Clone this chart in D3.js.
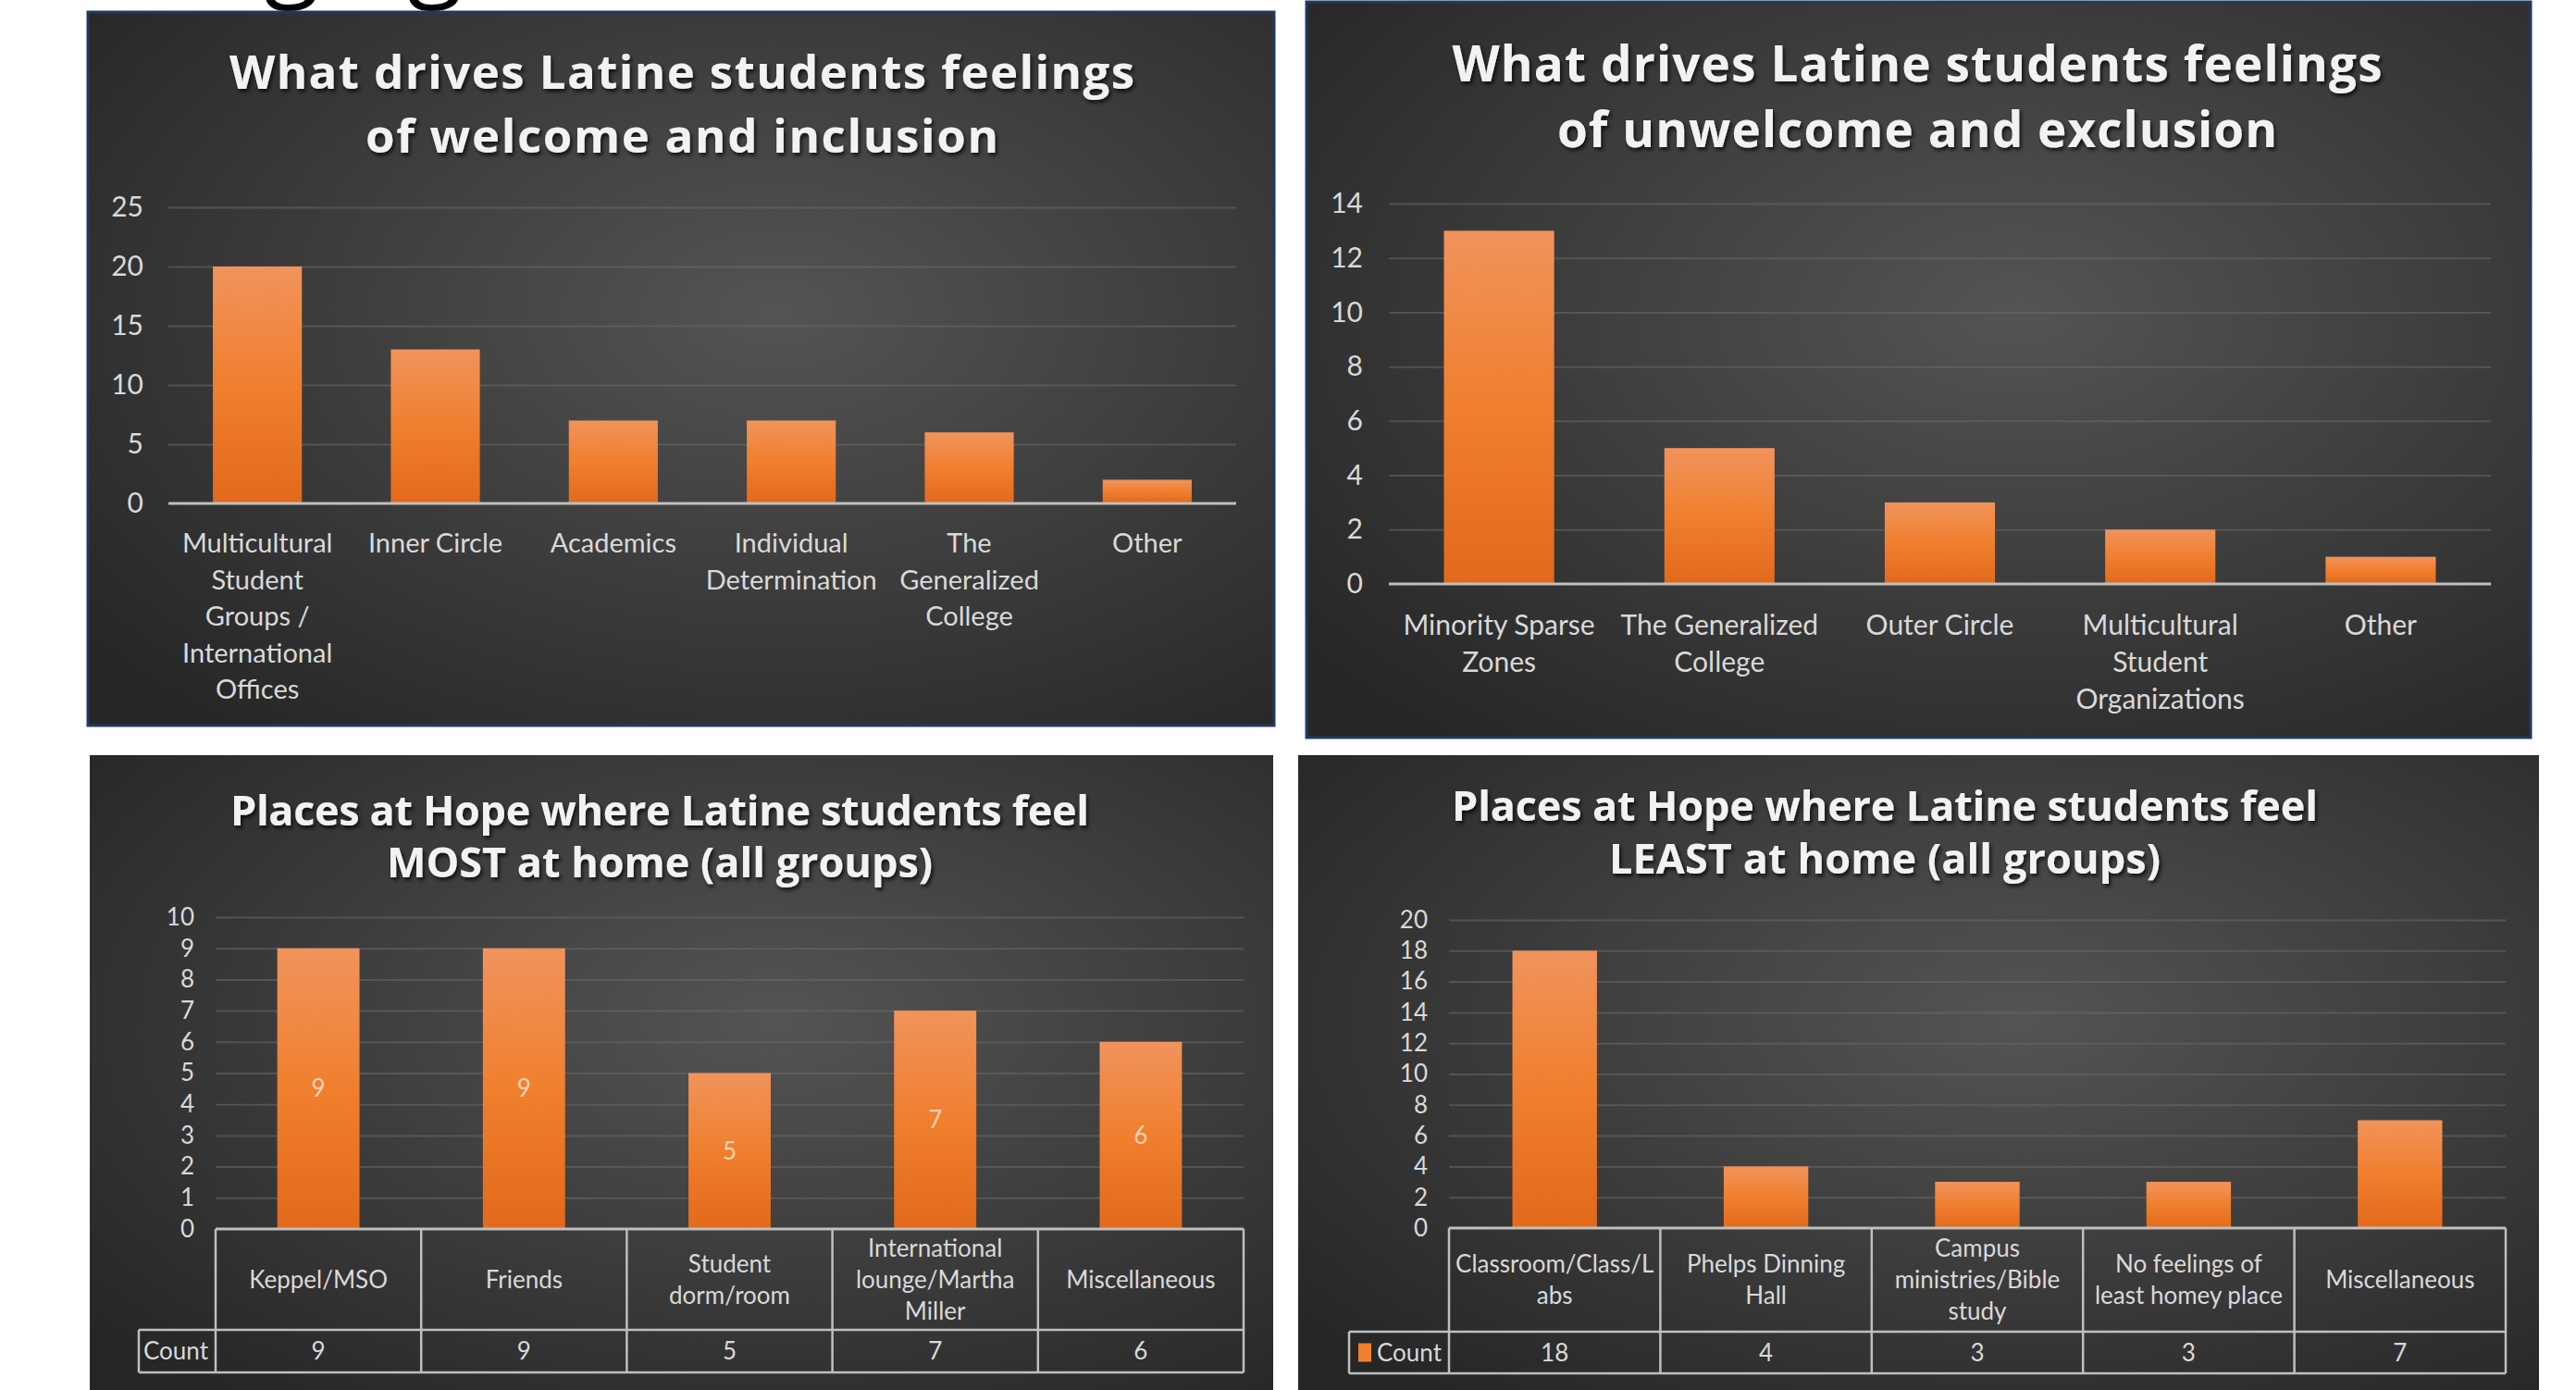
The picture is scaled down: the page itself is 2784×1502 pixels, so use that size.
<!DOCTYPE html>
<html lang="en">
<head>
<meta charset="UTF-8">
<title>Latine students - belonging charts</title>
<script src="https://d3js.org/d3.v7.min.js"></script>
<style>
  body { margin: 0; background: #ffffff; }
  svg { display: block; }
  .title { font-family: "Open Sans", sans-serif; font-weight: 700; fill: #f2f2f2; }
  .lbl { font-family: Lato, sans-serif; fill: #d9d9d9; }
</style>
</head>
<body>
<svg width="2784" height="1502"></svg>
<script>
// ---- data ----
const welcomeCats = ["Multicultural\nStudent\nGroups /\nInternational\nOffices", "Inner Circle", "Academics",
                     "Individual\nDetermination", "The\nGeneralized\nCollege", "Other"];
const welcomeVals = [20, 13, 7, 7, 6, 2];
const welcomeTicks = [0, 5, 10, 15, 20, 25];

const unwelcomeCats = ["Minority Sparse\nZones", "The Generalized\nCollege", "Outer Circle",
                       "Multicultural\nStudent\nOrganizations", "Other"];
const unwelcomeVals = [13, 5, 3, 2, 1];
const unwelcomeTicks = [0, 2, 4, 6, 8, 10, 12, 14];

const mostCats = ["Keppel/MSO", "Friends", "Student\ndorm/room", "International\nlounge/Martha\nMiller", "Miscellaneous"];
const mostVals = [9, 9, 5, 7, 6];
const mostTicks = [0, 1, 2, 3, 4, 5, 6, 7, 8, 9, 10];

const leastCats = ["Classroom/Class/L\nabs", "Phelps Dinning\nHall", "Campus\nministries/Bible\nstudy",
                   "No feelings of\nleast homey place", "Miscellaneous"];
const leastVals = [18, 4, 3, 3, 7];
const leastTicks = [0, 2, 4, 6, 8, 10, 12, 14, 16, 18, 20];

const seriesName = "Count";

// ---- layout per panel ----
const panels = [
  { box: [95, 13, 1282, 771], border: true,
    title: ["What drives Latine students feelings", "of welcome and inclusion"],
    titleY: [78, 147], titleW: [978, 684], cx: 737, titleSize: 51,
    cats: welcomeCats, vals: welcomeVals, ticks: welcomeTicks,
    x0: 182, x1: 1336, yTop: 224, yBot: 544, pad: 0.5, tickX: 155, tickSize: 30,
    labelY: 587, lineH: 39.5, labelSize: 29 },
  { box: [1412, 2, 1323, 795], border: true,
    title: ["What drives Latine students feelings", "of unwelcome and exclusion"],
    titleY: [69, 140], titleW: [1005, 778], cx: 2072, titleSize: 53,
    cats: unwelcomeCats, vals: unwelcomeVals, ticks: unwelcomeTicks,
    x0: 1501, x1: 2692, yTop: 220, yBot: 631, pad: 0.5, tickX: 1473, tickSize: 30,
    labelY: 675, lineH: 40, labelSize: 30 },
  { box: [97, 816, 1279, 686], border: false,
    title: ["Places at Hope where Latine students feel", "MOST at home (all groups)"],
    titleY: [876, 932], titleW: [928, 590], cx: 713, titleSize: 45,
    cats: mostCats, vals: mostVals, ticks: mostTicks,
    x0: 233, x1: 1344, yTop: 991, yBot: 1328, pad: 0.6, tickX: 210, tickSize: 26,
    dataLabels: true,
    table: { headLeft: 150, row1: 1437, row2: 1483, key: false }, lineH: 34, labelSize: 26 },
  { box: [1403, 816, 1341, 686], border: false,
    title: ["Places at Hope where Latine students feel", "LEAST at home (all groups)"],
    titleY: [871, 928], titleW: [936, 596], cx: 2037, titleSize: 45,
    cats: leastCats, vals: leastVals, ticks: leastTicks,
    x0: 1566, x1: 2708, yTop: 994, yBot: 1327, pad: 0.6, tickX: 1543, tickSize: 26,
    table: { headLeft: 1458, row1: 1439, row2: 1484, key: true }, lineH: 34, labelSize: 26 }
];

const svg = d3.select("svg");
const defs = svg.append("defs");

const bg = defs.append("radialGradient").attr("id", "panelBg")
  .attr("cx", "58%").attr("cy", "42%").attr("r", "75%");
bg.append("stop").attr("offset", "0%").attr("stop-color", "#545454");
bg.append("stop").attr("offset", "100%").attr("stop-color", "#262626");

const barGrad = defs.append("linearGradient").attr("id", "barGrad")
  .attr("x1", 0).attr("y1", 0).attr("x2", 0).attr("y2", 1);
barGrad.append("stop").attr("offset", "0%").attr("stop-color", "#f1935c");
barGrad.append("stop").attr("offset", "50%").attr("stop-color", "#f07f2e");
barGrad.append("stop").attr("offset", "100%").attr("stop-color", "#e2691b");

const shadow = defs.append("filter").attr("id", "shadow")
  .attr("x", "-5%").attr("y", "-20%").attr("width", "110%").attr("height", "150%");
shadow.append("feDropShadow").attr("dx", 2).attr("dy", 3).attr("stdDeviation", 2)
  .attr("flood-color", "#000").attr("flood-opacity", 0.75);

// slide heading, cut off at the top of the picture
svg.append("text")
  .attr("x", 500).attr("y", -14)
  .attr("text-anchor", "end")
  .attr("font-family", "Open Sans, sans-serif")
  .attr("font-size", 110)
  .attr("fill", "#000")
  .text("Belonging");

function fitWidth(el, target) {
  const n = el.text().length;
  const w = el.node().getComputedTextLength();
  const ls = (target - w) / (n - 1);
  el.attr("letter-spacing", ls.toFixed(2)).attr("dx", (ls / 2).toFixed(2));
}

function multiline(sel, str, cx, y0, lineH) {
  str.split("\n").forEach((line, i) => {
    sel.append("tspan").attr("x", cx).attr("y", y0 + i * lineH).attr("dy", "0.35em").text(line);
  });
}

function drawPanel(p) {
  const g = svg.append("g");
  const [bx, by, bw, bh] = p.box;

  g.append("rect")
    .attr("x", bx).attr("y", by).attr("width", bw).attr("height", bh)
    .attr("fill", "url(#panelBg)")
    .attr("stroke", p.border ? "#1f3a60" : "none")
    .attr("stroke-width", 3);

  // title
  p.title.forEach((t, i) => {
    const el = g.append("text").attr("class", "title")
      .attr("x", p.cx).attr("y", p.titleY[i] + p.titleSize * 0.36)
      .attr("text-anchor", "middle")
      .attr("font-size", p.titleSize)
      .attr("filter", "url(#shadow)")
      .text(t);
    fitWidth(el, p.titleW[i]);
  });

  const x = d3.scaleBand().domain(p.cats).range([p.x0, p.x1])
    .paddingInner(p.pad).paddingOuter(p.pad / 2);
  const y = d3.scaleLinear().domain([0, d3.max(p.ticks)]).range([p.yBot, p.yTop]);

  // gridlines
  const grid = g.append("g").attr("transform", `translate(${p.x0},0)`)
    .call(d3.axisLeft(y).tickValues(p.ticks.filter(t => t > 0))
      .tickSize(-(p.x1 - p.x0)).tickFormat(""));
  grid.select(".domain").remove();
  grid.selectAll("line").attr("stroke", "#6a6a6a").attr("stroke-opacity", 0.55).attr("stroke-width", 2);

  // y tick labels
  const ax = g.append("g").attr("transform", `translate(${p.tickX},0)`)
    .call(d3.axisLeft(y).tickValues(p.ticks).tickSize(0).tickPadding(0));
  ax.select(".domain").remove();
  ax.selectAll("text").attr("class", "lbl").attr("font-size", p.tickSize)
    .attr("fill", "#d9d9d9");

  // bars
  g.selectAll("rect.bar").data(p.cats).join("rect").attr("class", "bar")
    .attr("x", d => x(d))
    .attr("y", (d, i) => y(p.vals[i]))
    .attr("width", x.bandwidth())
    .attr("height", (d, i) => y(0) - y(p.vals[i]))
    .attr("fill", "url(#barGrad)");

  if (p.dataLabels) {
    g.selectAll("text.dl").data(p.cats).join("text").attr("class", "dl")
      .attr("x", d => x(d) + x.bandwidth() / 2)
      .attr("y", (d, i) => (y(0) + y(p.vals[i])) / 2)
      .attr("dy", "0.35em")
      .attr("text-anchor", "middle")
      .attr("font-family", "Lato, sans-serif")
      .attr("font-size", 26)
      .attr("fill", "#fbd3b4")
      .text((d, i) => p.vals[i]);
  }

  // axis baseline
  g.append("line")
    .attr("x1", p.x0).attr("x2", p.x1).attr("y1", y(0)).attr("y2", y(0))
    .attr("stroke", "#bfbfbf").attr("stroke-width", 3);

  if (!p.table) {
    p.cats.forEach(c => {
      const t = g.append("text").attr("class", "lbl")
        .attr("text-anchor", "middle").attr("font-size", p.labelSize);
      multiline(t, c, x(c) + x.bandwidth() / 2, p.labelY, p.lineH);
    });
    return;
  }

  // data table under the axis
  const tb = p.table;
  const edge = c => x(c) - x.step() * p.pad / 2;
  const tl = g.append("g").attr("stroke", "#bfbfbf").attr("stroke-width", 2.5);
  p.cats.forEach(c => {
    tl.append("line").attr("x1", edge(c)).attr("x2", edge(c)).attr("y1", y(0)).attr("y2", tb.row2);
  });
  tl.append("line").attr("x1", p.x1).attr("x2", p.x1).attr("y1", y(0)).attr("y2", tb.row2);
  tl.append("line").attr("x1", tb.headLeft).attr("x2", tb.headLeft).attr("y1", tb.row1).attr("y2", tb.row2);
  tl.append("line").attr("x1", tb.headLeft).attr("x2", p.x1).attr("y1", tb.row1).attr("y2", tb.row1);
  tl.append("line").attr("x1", tb.headLeft).attr("x2", p.x1).attr("y1", tb.row2).attr("y2", tb.row2);

  const rowMid = (y(0) + tb.row1) / 2;
  const countY = (tb.row1 + tb.row2) / 2;
  p.cats.forEach((c, i) => {
    const lines = c.split("\n").length;
    const t = g.append("text").attr("class", "lbl")
      .attr("text-anchor", "middle").attr("font-size", p.labelSize);
    multiline(t, c, x(c) + x.bandwidth() / 2, rowMid - (lines - 1) * p.lineH / 2, p.lineH);

    g.append("text").attr("class", "lbl")
      .attr("x", x(c) + x.bandwidth() / 2).attr("y", countY)
      .attr("dy", "0.35em").attr("text-anchor", "middle").attr("font-size", p.labelSize)
      .text(p.vals[i]);
  });

  let tx = tb.headLeft + 5;
  if (tb.key) {
    g.append("rect").attr("x", tb.headLeft + 10).attr("y", countY - 10)
      .attr("width", 14).attr("height", 20).attr("fill", "#f07f2e");
    tx = tb.headLeft + 30;
  }
  g.append("text").attr("class", "lbl")
    .attr("x", tx).attr("y", countY).attr("dy", "0.35em")
    .attr("font-size", p.labelSize)
    .text(seriesName);
}

panels.forEach(drawPanel);
</script>
</body>
</html>
